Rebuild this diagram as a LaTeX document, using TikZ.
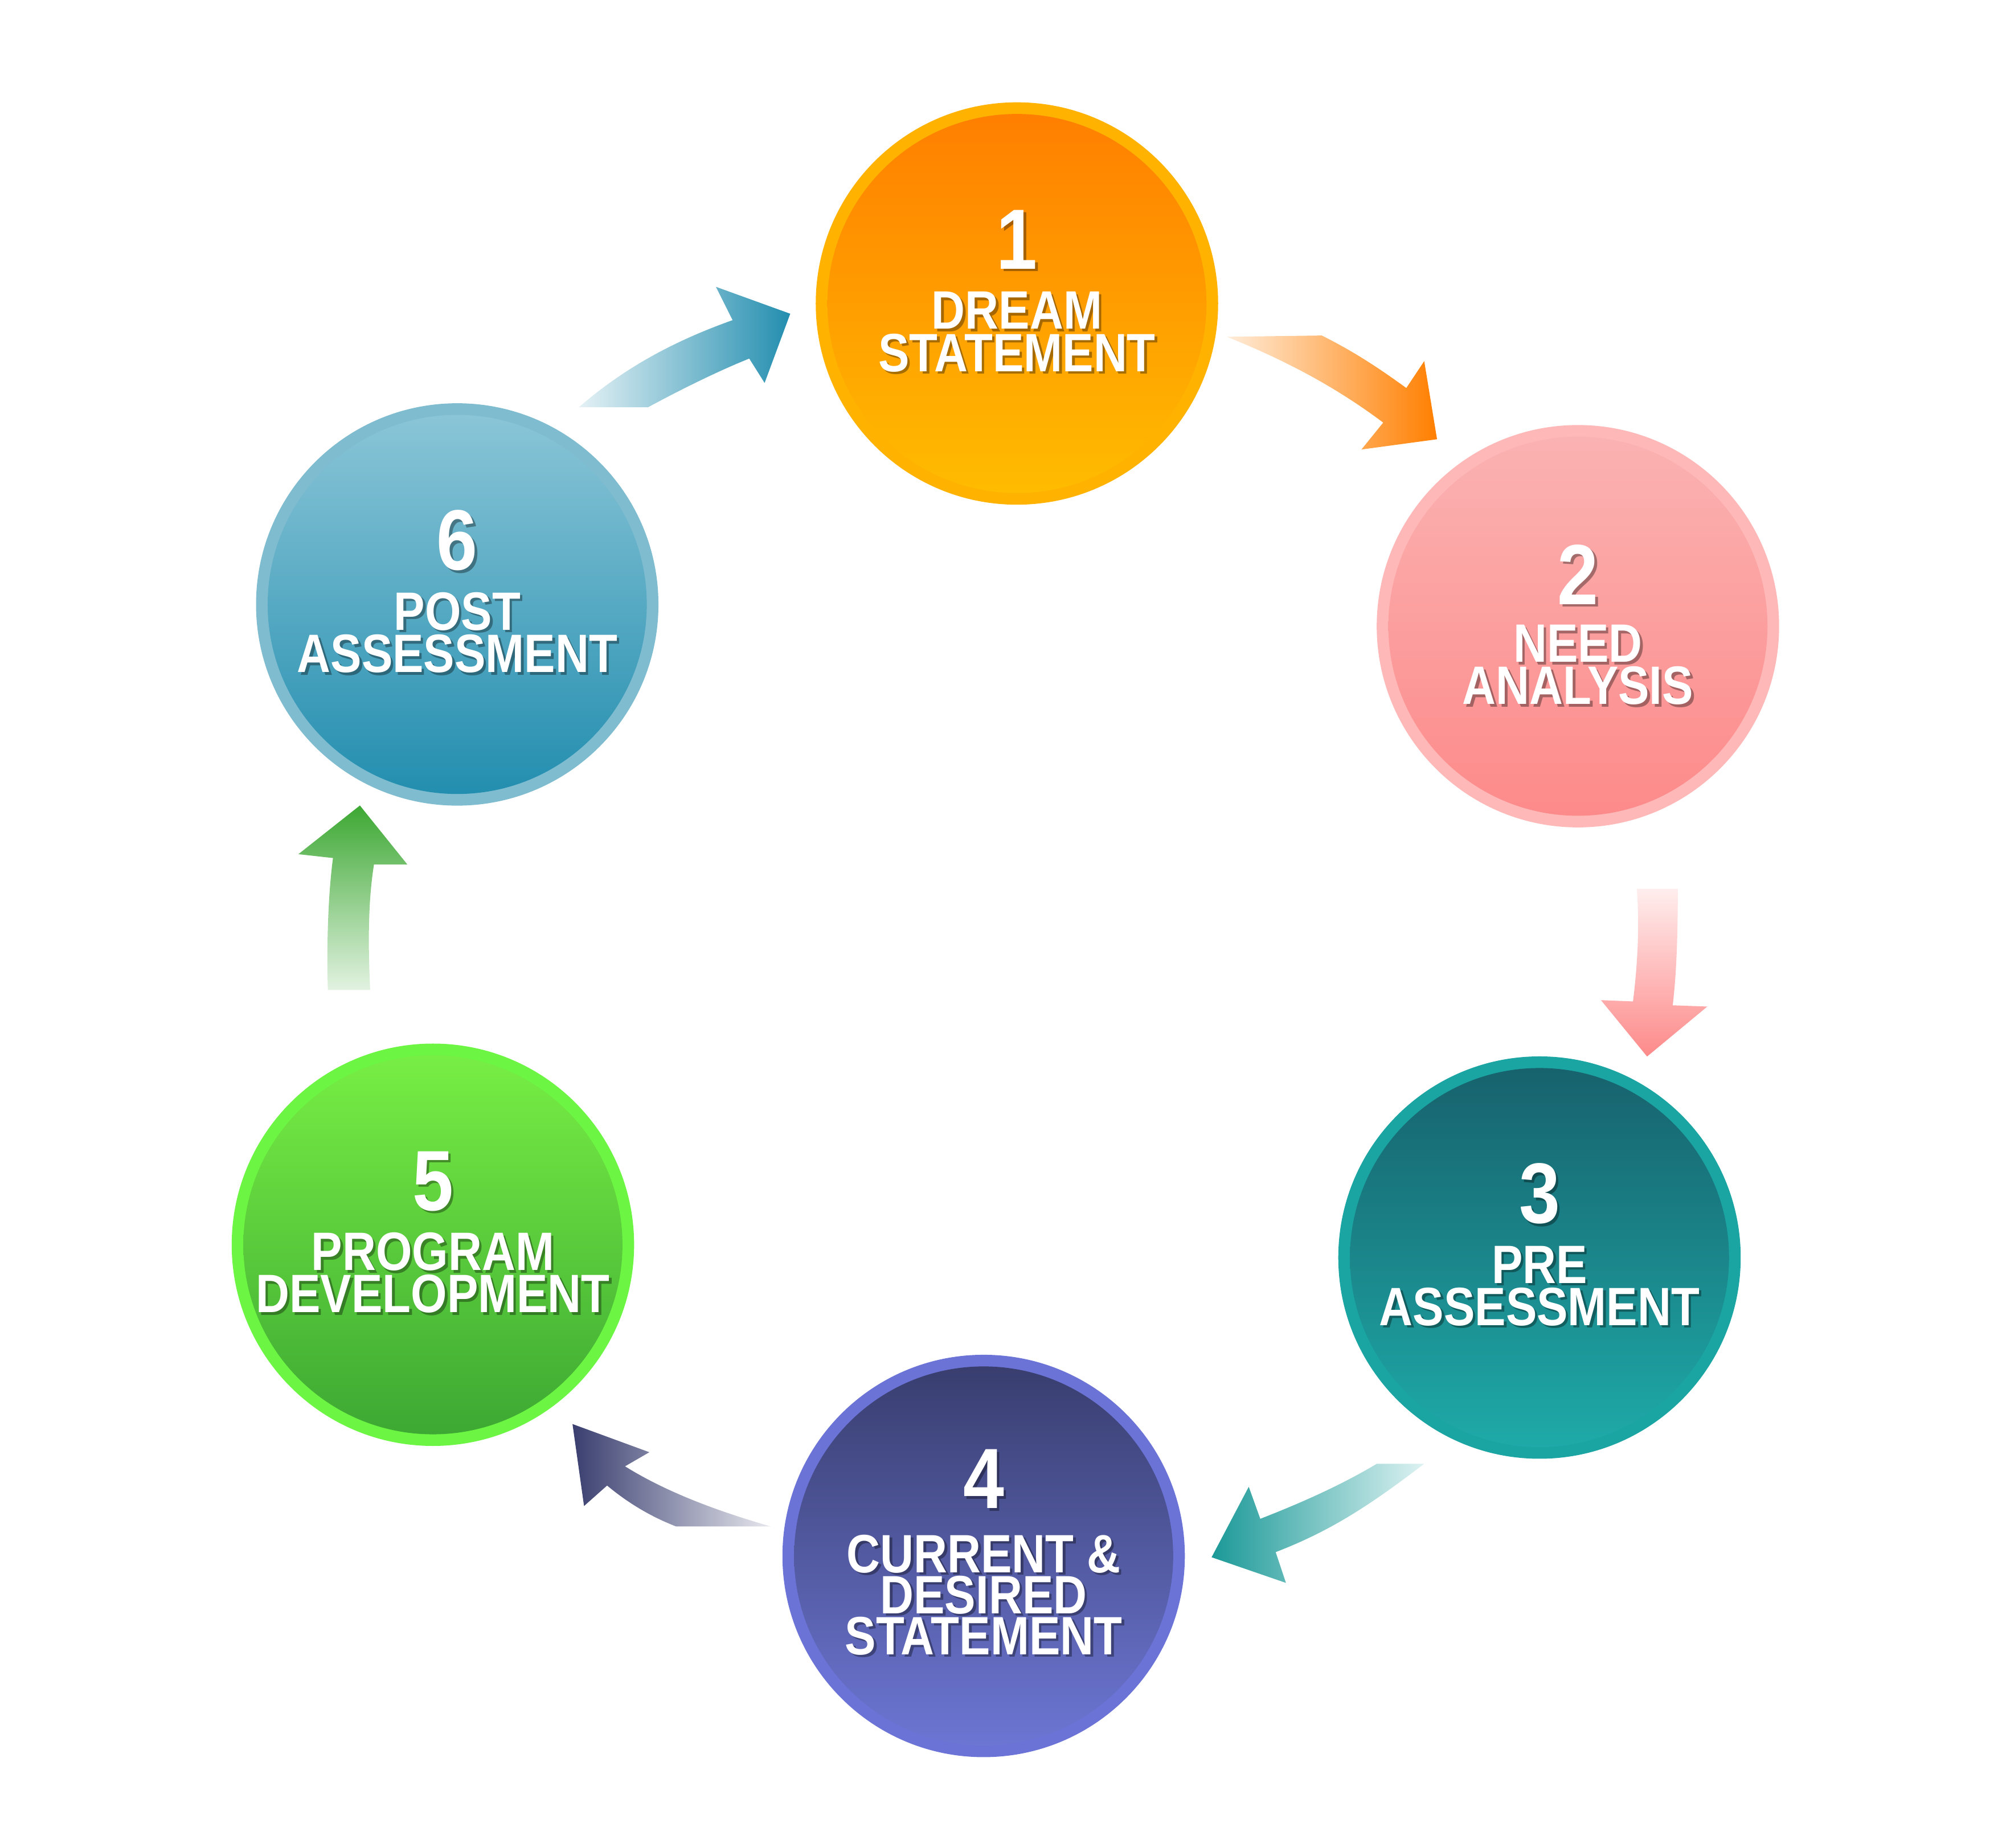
\documentclass[tikz,border=0pt]{standalone}
\usepackage{fontspec}
\usepackage{graphicx}
\setmainfont{Liberation Sans}
\usetikzlibrary{calc}
\begin{document}
\begin{tikzpicture}[x=0.01cm,y=-0.01cm,
  num/.style={font=\fontsize{19}{19}\selectfont\bfseries,text=white,anchor=base,inner sep=0},
  lab/.style={font=\fontsize{12}{12}\selectfont\bfseries,text=white,anchor=base,inner sep=0},
  shad/.style={text=black,opacity=0.35}]
\useasboundingbox (0,0) rectangle (1560,1443);
\definecolor{o1}{HTML}{FF7F00}\definecolor{o2}{HTML}{FFBC00}\definecolor{or}{HTML}{FFB300}
\definecolor{p1}{HTML}{FBB2B2}\definecolor{p2}{HTML}{FD8A8A}\definecolor{pr}{HTML}{FFB8B8}
\definecolor{t1}{HTML}{17626D}\definecolor{t2}{HTML}{1EAAA8}\definecolor{tr}{HTML}{1AA5A3}
\definecolor{n1}{HTML}{393E6F}\definecolor{n2}{HTML}{6C76D3}\definecolor{nr}{HTML}{6B74D6}
\definecolor{g1}{HTML}{77EE44}\definecolor{g2}{HTML}{3DA833}\definecolor{gr}{HTML}{6CF542}
\definecolor{b1}{HTML}{8AC5D7}\definecolor{b2}{HTML}{238EAF}\definecolor{br}{HTML}{7FBCD0}
\newcommand{\stage}[6]{%
  \node[circle,fill=#4,minimum size=3.14cm,inner sep=0] (#1) at (#2,#3) {};
  \shade[top color=#5,bottom color=#6] (#1.center) circle (148);
}
\newcommand{\txt}[4]{%
  \node[#3,shad] at ($(#2)+(2,2)$) {\scalebox{0.86}[1]{#4}};
  \node[#3] (#1) at (#2) {\scalebox{0.86}[1]{#4}};
}
\stage{c1}{794}{237}{or}{o1}{o2}
\stage{c2}{1232}{489}{pr}{p1}{p2}
\stage{c3}{1202}{982}{tr}{t1}{t2}
\stage{c4}{768}{1215}{nr}{n1}{n2}
\stage{c5}{338}{972}{gr}{g1}{g2}
\stage{c6}{357}{472}{br}{b1}{b2}
\txt{n1t}{$(c1)+(0,-27)$}{num}{1}
\txt{a1}{$(c1)+(0,20)$}{lab}{DREAM}
\txt{b1t}{$(c1)+(0,53)$}{lab}{STATEMENT}
\txt{n2t}{$(c2)+(0,-17)$}{num}{2}
\txt{a2}{$(c2)+(0,28)$}{lab}{NEED}
\txt{b2t}{$(c2)+(0,61)$}{lab}{ANALYSIS}
\txt{n3t}{$(c3)+(0,-27)$}{num}{3}
\txt{a3}{$(c3)+(0,20)$}{lab}{PRE}
\txt{b3t}{$(c3)+(0,53)$}{lab}{ASSESSMENT}
\txt{n4t}{$(c4)+(0,-37)$}{num}{4}
\txt{a4}{$(c4)+(0,13)$}{lab}{CURRENT \&}
\txt{b4t}{$(c4)+(0,45)$}{lab}{DESIRED}
\txt{d4t}{$(c4)+(0,77)$}{lab}{STATEMENT}
\txt{n5t}{$(c5)+(0,-27)$}{num}{5}
\txt{a5}{$(c5)+(0,20)$}{lab}{PROGRAM}
\txt{b5t}{$(c5)+(0,53)$}{lab}{DEVELOPMENT}
\txt{n6t}{$(c6)+(0,-27)$}{num}{6}
\txt{a6}{$(c6)+(0,20)$}{lab}{POST}
\txt{b6t}{$(c6)+(0,53)$}{lab}{ASSESSMENT}
\shade[left color=o1!15,right color=o1] (958,263) -- (1032,262) .. controls (1060,276) and (1080,290) .. (1098,303) -- (1112,282) -- (1122,343) -- (1063,351) -- (1080,330) .. controls (1040,300) and (1000,280) .. cycle;
\shade[top color=p2!15,bottom color=p2] (1278,694) -- (1310,694) .. controls (1310,730) and (1309,760) .. (1306,785) -- (1333,786) -- (1286,825) -- (1250,781) -- (1275,782) .. controls (1279,750) and (1280,720) .. cycle;
\shade[right color=t2!15,left color=t2!90!black] (1112,1143) .. controls (1070,1175) and (1040,1195) .. (996,1212) -- (1004,1236) -- (946,1216) -- (975,1161) -- (984,1186) .. controls (1020,1172) and (1050,1158) .. (1075,1143) -- cycle;
\shade[right color=n1!12,left color=n1] (602,1192) -- (528,1192) .. controls (510,1185) and (492,1175) .. (474,1160) -- (456,1176) -- (447,1112) -- (507,1134) -- (488,1145) .. controls (520,1165) and (560,1180) .. cycle;
\shade[bottom color=g2!15,top color=g2] (256,773) -- (289,773) .. controls (287,730) and (288,700) .. (292,675) -- (318,675) -- (281,629) -- (233,667) -- (260,670) .. controls (256,700) and (255,740) .. cycle;
\shade[left color=b2!12,right color=b2] (452,318) -- (506,318) .. controls (530,305) and (560,290) .. (585,280) -- (597,299) -- (617,245) -- (559,224) -- (572,250) .. controls (530,265) and (490,285) .. cycle;
\end{tikzpicture}
\end{document}
